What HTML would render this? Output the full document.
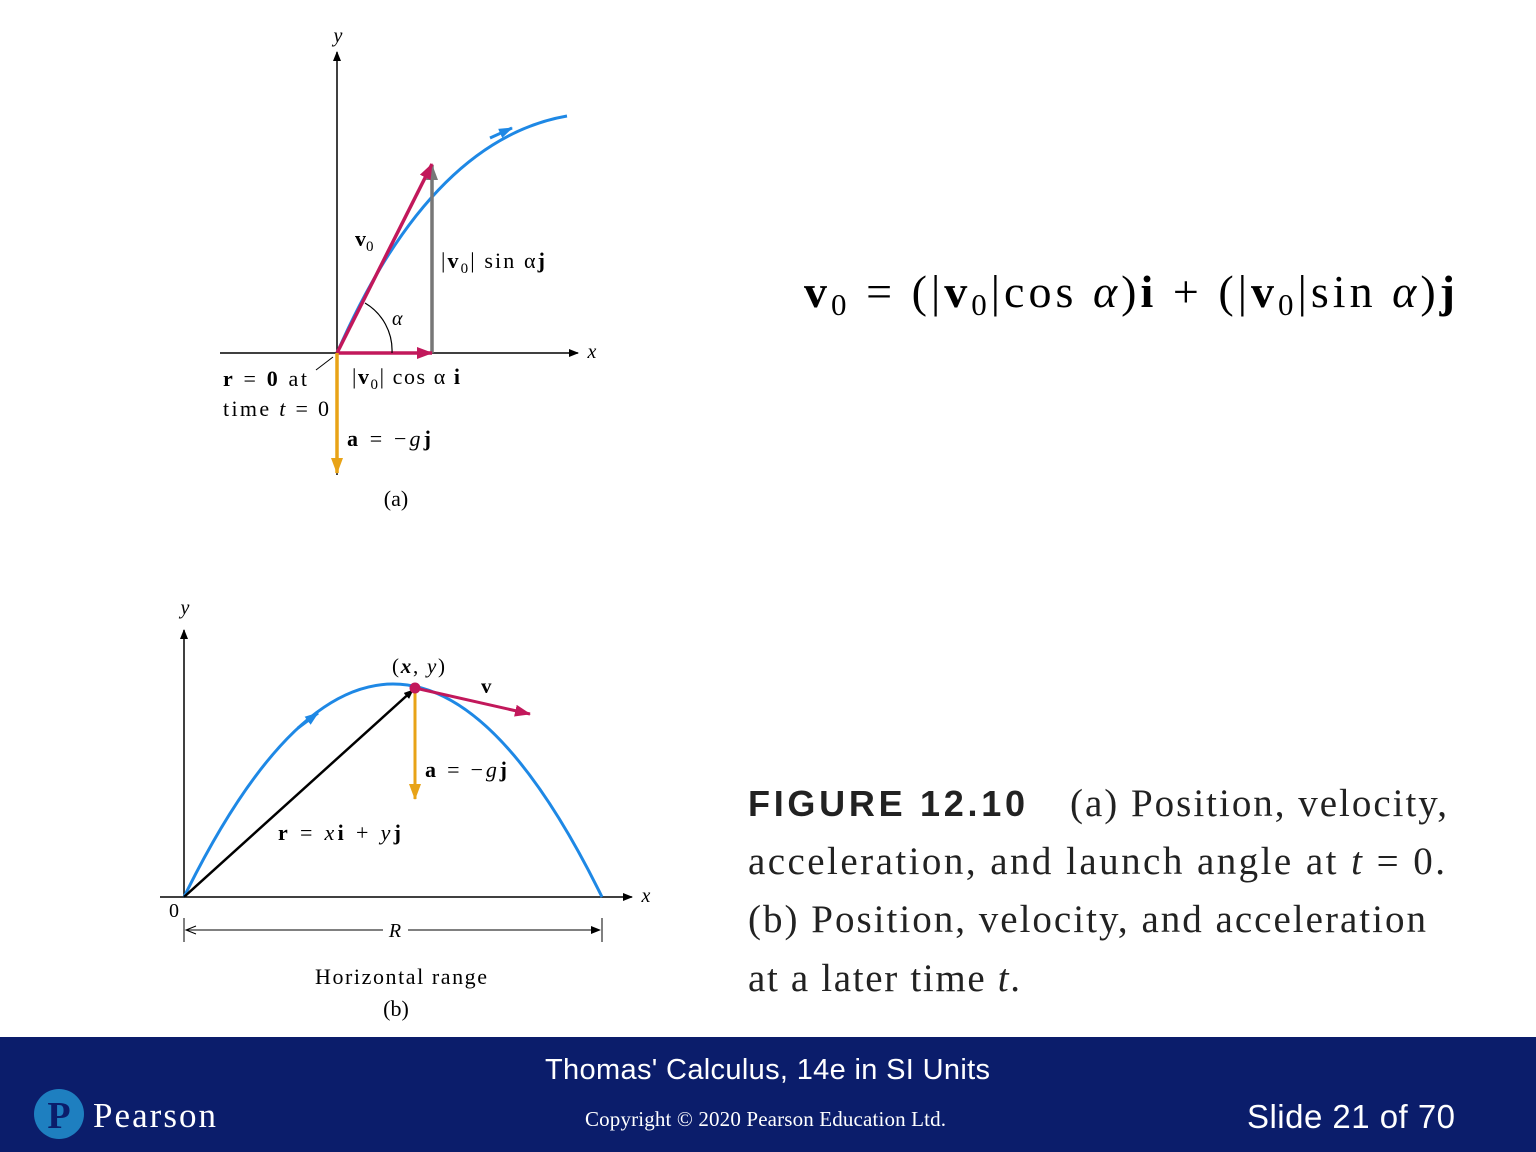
<!DOCTYPE html>
<html><head><meta charset="utf-8"><style>
html,body{margin:0;padding:0;background:#fff;}
svg{display:block;}
.s{font-family:"Liberation Serif",serif;}
</style></head><body>
<svg width="1536" height="1152" viewBox="0 0 1536 1152" xmlns="http://www.w3.org/2000/svg">
<defs>
<marker id="ak" markerWidth="10" markerHeight="8" refX="9" refY="4" orient="auto" markerUnits="userSpaceOnUse"><path d="M0,0 L10,4 L0,8 Z" fill="#000"/></marker>
<marker id="am" markerWidth="16" markerHeight="12" refX="15" refY="6" orient="auto" markerUnits="userSpaceOnUse"><path d="M0,0 L16,6 L0,12 Z" fill="#c2185b"/></marker>
<marker id="ag" markerWidth="16" markerHeight="12" refX="15" refY="6" orient="auto" markerUnits="userSpaceOnUse"><path d="M0,0 L16,6 L0,12 Z" fill="#777"/></marker>
<marker id="ao" markerWidth="16" markerHeight="12" refX="15" refY="6" orient="auto" markerUnits="userSpaceOnUse"><path d="M0,0 L16,6 L0,12 Z" fill="#e8a317"/></marker>
<marker id="ab" markerWidth="14" markerHeight="10" refX="13" refY="5" orient="auto" markerUnits="userSpaceOnUse"><path d="M0,0 L14,5 L0,10 Z" fill="#1e88e5"/></marker>
</defs>

<g>
<line x1="337" y1="475" x2="337" y2="52" stroke="#000" stroke-width="1.5" marker-end="url(#ak)"/>
<text x="338" y="42" class="s" font-style="italic" font-size="20" text-anchor="middle">y</text>
<line x1="220" y1="353" x2="578" y2="353" stroke="#000" stroke-width="1.5" marker-end="url(#ak)"/>
<text x="592" y="358" class="s" font-style="italic" font-size="20" text-anchor="middle">x</text>
<path d="M337,353 Q430,140 567,116" fill="none" stroke="#1e88e5" stroke-width="3"/>
<line x1="490" y1="138" x2="512" y2="128" stroke="#1e88e5" stroke-width="3" marker-end="url(#ab)"/>
<line x1="432" y1="353" x2="432" y2="165" stroke="#777" stroke-width="3.5" marker-end="url(#ag)"/>
<line x1="337" y1="353" x2="432" y2="164" stroke="#c2185b" stroke-width="3.5" marker-end="url(#am)"/>
<line x1="337" y1="353" x2="432" y2="353" stroke="#c2185b" stroke-width="3.5" marker-end="url(#am)"/>
<line x1="337" y1="353" x2="337" y2="473" stroke="#e8a317" stroke-width="3.5" marker-end="url(#ao)"/>
<path d="M365,303 A55,55 0 0 1 392,353" fill="none" stroke="#000" stroke-width="1.2"/>
<line x1="316" y1="370" x2="333" y2="357" stroke="#000" stroke-width="1"/>
<text x="355" y="246" class="s" font-weight="bold" font-size="22">v<tspan font-size="15" font-weight="normal" dy="5">0</tspan></text>
<text x="441" y="268" class="s" font-size="22" textLength="104" lengthAdjust="spacing">|<tspan font-weight="bold">v</tspan><tspan font-size="15" dy="5">0</tspan><tspan dy="-5">| sin α</tspan><tspan font-weight="bold">j</tspan></text>
<text x="392" y="325" class="s" font-style="italic" font-size="20">α</text>
<text x="352" y="384" class="s" font-size="22" textLength="108" lengthAdjust="spacing">|<tspan font-weight="bold">v</tspan><tspan font-size="15" dy="5">0</tspan><tspan dy="-5">| cos α </tspan><tspan font-weight="bold">i</tspan></text>
<text x="223" y="386" class="s" font-size="22" textLength="84" lengthAdjust="spacing"><tspan font-weight="bold">r</tspan> = <tspan font-weight="bold">0</tspan> at</text>
<text x="223" y="416" class="s" font-size="22" textLength="106" lengthAdjust="spacing">time <tspan font-style="italic">t</tspan> = 0</text>
<text x="347" y="446" class="s" font-size="22" textLength="84" lengthAdjust="spacing"><tspan font-weight="bold">a</tspan> = −<tspan font-style="italic">g</tspan><tspan font-weight="bold">j</tspan></text>
<text x="396" y="506" class="s" font-size="22" text-anchor="middle">(a)</text>
</g>

<g>
<line x1="184" y1="897" x2="184" y2="630" stroke="#000" stroke-width="1.5" marker-end="url(#ak)"/>
<text x="185" y="614" class="s" font-style="italic" font-size="20" text-anchor="middle">y</text>
<line x1="160" y1="897" x2="632" y2="897" stroke="#000" stroke-width="1.5" marker-end="url(#ak)"/>
<text x="646" y="902" class="s" font-style="italic" font-size="20" text-anchor="middle">x</text>
<text x="174" y="917" class="s" font-size="20" text-anchor="middle">0</text>
<path d="M184,897 Q393,471 602,897" fill="none" stroke="#1e88e5" stroke-width="3"/>
<line x1="298" y1="728" x2="318" y2="713" stroke="#1e88e5" stroke-width="3" marker-end="url(#ab)"/>
<line x1="184" y1="897" x2="413" y2="690" stroke="#000" stroke-width="2.5" marker-end="url(#ak)"/>
<line x1="415" y1="688" x2="530" y2="714" stroke="#c2185b" stroke-width="3" marker-end="url(#am)"/>
<line x1="415" y1="688" x2="415" y2="799" stroke="#e8a317" stroke-width="3" marker-end="url(#ao)"/>
<circle cx="415" cy="688" r="5.5" fill="#c2185b"/>
<text x="392" y="673" class="s" font-size="21" textLength="53" lengthAdjust="spacing">(<tspan font-weight="bold" font-style="italic">x</tspan>, <tspan font-style="italic">y</tspan>)</text>
<text x="481" y="693" class="s" font-weight="bold" font-size="21">v</text>
<text x="425" y="777" class="s" font-size="22" textLength="82" lengthAdjust="spacing"><tspan font-weight="bold">a</tspan> = −<tspan font-style="italic">g</tspan><tspan font-weight="bold">j</tspan></text>
<text x="278" y="840" class="s" font-size="22" textLength="123" lengthAdjust="spacing"><tspan font-weight="bold">r</tspan> = <tspan font-style="italic">x</tspan><tspan font-weight="bold">i</tspan> + <tspan font-style="italic">y</tspan><tspan font-weight="bold">j</tspan></text>
<line x1="184" y1="918" x2="184" y2="942" stroke="#000" stroke-width="1"/>
<line x1="602" y1="918" x2="602" y2="942" stroke="#000" stroke-width="1"/>
<line x1="186" y1="930" x2="383" y2="930" stroke="#000" stroke-width="1"/>
<line x1="408" y1="930" x2="600" y2="930" stroke="#000" stroke-width="1" marker-end="url(#ak)"/>
<path d="M196,926 L186,930 L196,934" fill="none" stroke="#000"/>
<text x="395" y="937" class="s" font-style="italic" font-size="20" text-anchor="middle">R</text>
<text x="315" y="984" class="s" font-size="22" textLength="172" lengthAdjust="spacing">Horizontal range</text>
<text x="396" y="1016" class="s" font-size="22" text-anchor="middle">(b)</text>
</g>

<text x="804" y="307" class="s" font-size="46" textLength="651" lengthAdjust="spacing"><tspan font-weight="bold">v</tspan><tspan font-size="31" dy="8">0</tspan><tspan dy="-8"> = (|</tspan><tspan font-weight="bold">v</tspan><tspan font-size="31" dy="8">0</tspan><tspan dy="-8">|cos </tspan><tspan font-style="italic">α</tspan><tspan>)</tspan><tspan font-weight="bold">i</tspan><tspan> + (|</tspan><tspan font-weight="bold">v</tspan><tspan font-size="31" dy="8">0</tspan><tspan dy="-8">|sin </tspan><tspan font-style="italic">α</tspan><tspan>)</tspan><tspan font-weight="bold">j</tspan></text>

<g>
<text x="748" y="816" font-family="Liberation Sans, sans-serif" font-weight="bold" font-size="36" fill="#222" textLength="277" lengthAdjust="spacing">FIGURE 12.10</text>
<text x="1070" y="816" class="s" font-size="39" fill="#222" textLength="377" lengthAdjust="spacing">(a) Position, velocity,</text>
<text x="748" y="874" class="s" font-size="39" fill="#222" textLength="697" lengthAdjust="spacing">acceleration, and launch angle at <tspan font-style="italic">t</tspan> = 0.</text>
<text x="748" y="932" class="s" font-size="39" fill="#222" textLength="678" lengthAdjust="spacing">(b) Position, velocity, and acceleration</text>
<text x="748" y="991" class="s" font-size="39" fill="#222" textLength="272" lengthAdjust="spacing">at a later time <tspan font-style="italic">t</tspan>.</text>
</g>

<g>
<rect x="0" y="1037" width="1536" height="115" fill="#0b1d6b"/>
<text x="545" y="1079" font-family="Liberation Sans, sans-serif" font-size="29" fill="#fff" textLength="445" lengthAdjust="spacing">Thomas' Calculus, 14e in SI Units</text>
<text x="585" y="1126" class="s" font-size="21" fill="#fff" textLength="361" lengthAdjust="spacing">Copyright © 2020 Pearson Education Ltd.</text>
<text x="1247" y="1128" font-family="Liberation Sans, sans-serif" font-size="33" fill="#fff" textLength="208" lengthAdjust="spacing">Slide 21 of 70</text>
<g>
<circle cx="59" cy="1114" r="25" fill="#1e7fc0"/>
<text x="59" y="1128" class="s" font-weight="bold" font-size="38" fill="#0b1d6b" text-anchor="middle">P</text>
<text x="93" y="1127" class="s" font-size="35" fill="#fff" textLength="123" lengthAdjust="spacing">Pearson</text>
</g>
</g>
</svg>
</body></html>
